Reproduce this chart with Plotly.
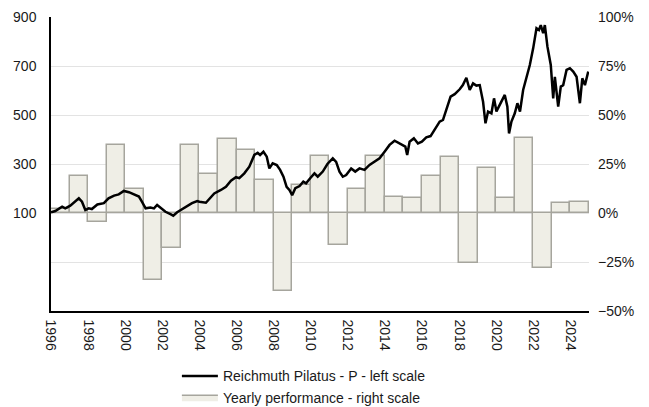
import plotly.graph_objects as go

# Yearly performance (right scale, %)
bar_years = list(range(1996, 2025))
bar_perf = [2.0, 19.0, -4.4, 34.7, 12.1, -34.2, -18.0, 34.7, 19.7, 37.6, 32.1, 16.8,
            -39.8, 14.3, 29.1, -16.3, 12.1, 29.1, 8.0, 7.5, 19.0, 28.4, -25.4, 23.1,
            7.5, 38.1, -28.2, 4.9, 5.4]

# Price line (left scale), time in decimal years
line_t = [1996.0, 1996.23, 1996.6, 1996.77, 1997.04, 1997.5, 1997.67, 1997.85, 1998.03, 1998.2,
          1998.5, 1998.85, 1999.1, 1999.4, 1999.65, 1999.93, 2000.2, 2000.47, 2000.74, 2000.9,
          2001.1, 2001.36, 2001.55, 2001.72, 2001.9, 2002.17, 2002.44, 2002.59, 2002.8, 2003.07,
          2003.34, 2003.6, 2003.88, 2004.0, 2004.35, 2004.8, 2005.16, 2005.43, 2005.7, 2005.97,
          2006.15, 2006.42, 2006.69, 2006.96, 2007.14, 2007.27, 2007.45, 2007.63, 2007.77, 2007.95,
          2008.17, 2008.35, 2008.53, 2008.7, 2008.85, 2009.0, 2009.17, 2009.4, 2009.6, 2009.75,
          2009.97, 2010.2, 2010.38, 2010.65, 2010.9, 2011.19, 2011.37, 2011.55, 2011.73, 2011.91,
          2012.18, 2012.4, 2012.63, 2012.9, 2013.17, 2013.44, 2013.71, 2013.98, 2014.25, 2014.52,
          2014.74, 2014.97, 2015.1, 2015.2, 2015.33, 2015.56, 2015.78, 2015.99, 2016.23, 2016.46,
          2016.68, 2016.95, 2017.13, 2017.31, 2017.54, 2017.76, 2017.9, 2018.03, 2018.2, 2018.39,
          2018.57, 2018.75, 2018.93, 2019.11, 2019.29, 2019.42, 2019.56, 2019.74, 2019.88, 2020.01,
          2020.14, 2020.28, 2020.46, 2020.6, 2020.69, 2020.82, 2021.0, 2021.14, 2021.28, 2021.45,
          2021.63, 2021.81, 2021.99, 2022.17, 2022.3, 2022.4, 2022.53, 2022.62, 2022.76, 2022.94,
          2023.07, 2023.16, 2023.34, 2023.48, 2023.61, 2023.79, 2023.97, 2024.15, 2024.33, 2024.51,
          2024.64, 2024.78, 2024.96]
line_v = [103, 108, 126, 119, 130, 160, 146, 112, 119, 116,
          135, 140, 160, 171, 176, 190, 185, 176, 167, 146,
          119, 122, 119, 133, 122, 105, 95, 89, 103, 116,
          126, 140, 149, 146, 142, 180, 194, 207, 232, 246,
          242, 262, 289, 337, 346, 337, 350, 330, 282, 303,
          296, 276, 248, 207, 194, 173, 201, 210, 228, 221,
          242, 262, 248, 269, 300, 323, 309, 269, 248, 255,
          282, 269, 282, 276, 296, 309, 323, 350, 378, 395,
          387, 378, 371, 337, 391, 405, 384, 391, 409, 414,
          439, 473, 480, 520, 575, 585, 595, 605, 622, 652,
          602, 629, 620, 622, 554, 466, 514, 507, 568, 514,
          534, 554, 582, 534, 425, 473, 507, 548, 514, 602,
          656, 704, 772, 854, 847, 867, 834, 867, 779, 704,
          568, 656, 534, 616, 622, 684, 691, 677, 656, 548,
          650, 622, 677]

x_ticks = list(range(1996, 2025, 2))
left_ticks = [100, 300, 500, 700, 900]
right_ticks = [-50, -25, 0, 25, 50, 75, 100]
right_tick_text = ["\u221250%", "\u221225%", "0%", "25%", "50%", "75%", "100%"]

FONT = "Liberation Sans, Arial, sans-serif"
BAR_FILL = "#efeee6"
BAR_EDGE = "#a6a59d"

fig = go.Figure()
fig.add_trace(go.Bar(
    x=[y + 0.5 for y in bar_years], y=bar_perf, width=1.0,
    name="Yearly performance - right scale",
    marker=dict(color=BAR_FILL, line=dict(color=BAR_EDGE, width=1.5)),
    yaxis="y", showlegend=False,
))
fig.add_trace(go.Scatter(
    x=line_t, y=line_v, mode="lines",
    name="Reichmuth Pilatus - P - left scale",
    line=dict(color="#000000", width=2.5),
    yaxis="y2", legendrank=1,
))
# legend-only entry for the bars (wide rectangle symbol)
fig.add_trace(go.Scatter(
    x=[None], y=[None], mode="lines", fill="toself",
    fillcolor=BAR_FILL, line=dict(color=BAR_EDGE, width=1.5),
    name="Yearly performance - right scale",
    yaxis="y2", legendrank=2,
))

fig.update_layout(
    width=649, height=407,
    margin=dict(l=51, r=60, t=17, b=96, autoexpand=False),
    paper_bgcolor="white", plot_bgcolor="white",
    font=dict(family=FONT, size=14, color="#1a1a1a"),
    showlegend=True,
    bargap=0,
    legend=dict(orientation="v", x=0.234, xanchor="left", y=-0.168, yanchor="top",
                font=dict(size=14), tracegroupgap=0, itemwidth=36,
                bgcolor="rgba(0,0,0,0)"),
    xaxis=dict(range=[1996, 2025], tickvals=x_ticks, ticktext=[str(v) for v in x_ticks],
               tickangle=90, showgrid=False, zeroline=False, automargin=False,
               showline=True, linecolor="#000000", linewidth=1.5,
               ticks="", ticklabelstandoff=4),
    yaxis=dict(side="right", range=[-50, 100], tickvals=right_ticks, ticktext=right_tick_text,
               showgrid=True, gridcolor="#e3e3e3", gridwidth=1, zeroline=False,
               automargin=False,
               showline=False, ticks="", ticklabelstandoff=8),
    yaxis2=dict(side="left", overlaying="y", range=[-300, 900], tickvals=left_ticks,
                ticktext=[str(v) for v in left_ticks],
                showgrid=False, zeroline=False, automargin=False,
                showline=True, linecolor="#000000", linewidth=1.5,
                ticks="", ticklabelstandoff=10),
)

fig.write_html("out.html", config={"displayModeBar": False},
               post_script="document.body.style.margin='0';document.body.style.padding='0';")
